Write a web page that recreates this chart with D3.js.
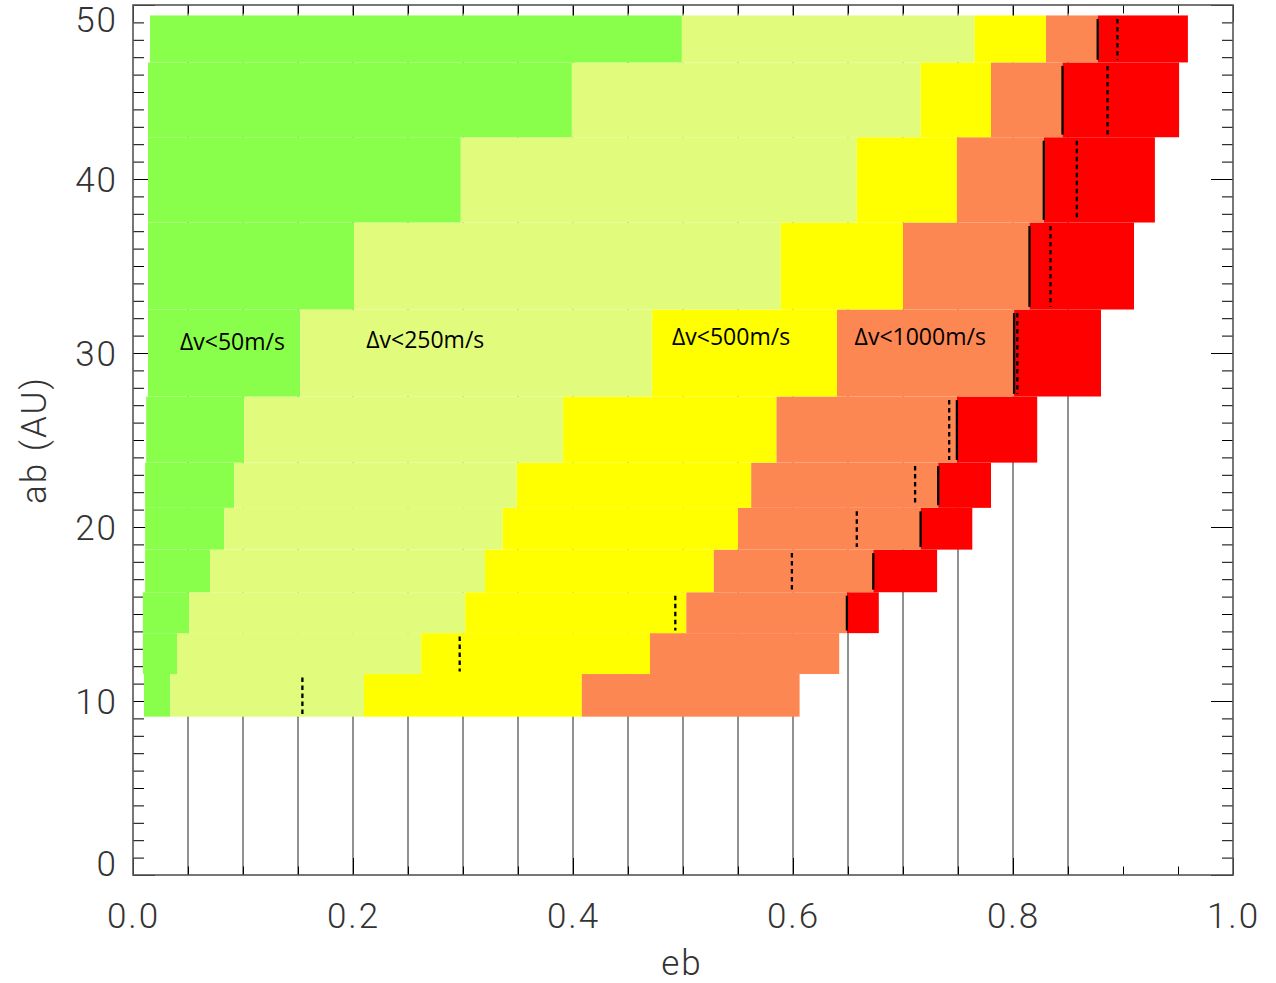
<!DOCTYPE html>
<html>
<head>
<meta charset="utf-8">
<script src="https://cdn.jsdelivr.net/npm/d3@7"></script>
<style>
body { margin: 0; background: #fff; }
.axis text, .title { font-family: Roboto, "DejaVu Sans"; font-weight: 300; font-size: 35px; fill: #333; letter-spacing: 2px; }
.note { font-family: "Open Sans", "Noto Sans"; font-size: 23px; fill: #000; }
</style>
</head>
<body>
<svg width="1276" height="983"></svg>
<script>
// ab of each simulated row and the ab edges of the rows (bottom to top)
var abRows = [10, 12.5, 15, 17.5, 20, 22.5, 25, 30, 35, 40, 45, 50];
var rowEdges = [9.1, 11.55, 13.9, 16.25, 18.7, 21.1, 23.7, 27.5, 32.5, 37.5, 42.4, 46.7, 49.4];

// eb where each colour band starts / ends, one value per row
var ebStart  = [0.010, 0.009, 0.009, 0.011, 0.011, 0.011, 0.012, 0.0136, 0.0136, 0.0136, 0.0136, 0.0155];
var ebDv50   = [0.034, 0.040, 0.051, 0.070, 0.083, 0.092, 0.101, 0.152, 0.201, 0.298, 0.399, 0.499];
var ebDv250  = [0.210, 0.262, 0.302, 0.320, 0.336, 0.349, 0.391, 0.472, 0.589, 0.658, 0.716, 0.765];
var ebDv500  = [0.408, 0.470, 0.503, 0.528, 0.550, 0.562, 0.585, 0.640, 0.700, 0.749, 0.780, 0.830];
var ebDv1000 = [0.606, 0.642, 0.649, 0.673, 0.716, 0.732, 0.749, 0.801, 0.815, 0.828, 0.845, 0.877];
var ebEnd    = [null, null, 0.678, 0.731, 0.763, 0.780, 0.822, 0.880, 0.910, 0.929, 0.951, 0.959];

// dashed markers, one per row
var ebDashed = [0.154, 0.297, 0.493, 0.599, 0.658, 0.711, 0.742, 0.804, 0.834, 0.858, 0.886, 0.895];

var bandColors = ["#8aff4b", "#e1fc7d", "#ffff00", "#fd8753", "#ff0000"];

var noteText = ["\u0394v<50m/s", "\u0394v<250m/s", "\u0394v<500m/s", "\u0394v<1000m/s"];
var noteEb = [0.0427, 0.212, 0.490, 0.656];
var noteAb = [30.15, 30.3, 30.45, 30.45];

var xTicks = [0, 0.2, 0.4, 0.6, 0.8, 1.0];
var yTicks = [0, 10, 20, 30, 40, 50];

var svg = d3.select("svg");

var x = d3.scaleLinear().domain([0, 1]).range([133, 1233]);
var y = d3.scaleLinear().domain([0, 50]).range([875, 5]);

// thin vertical lines every 0.05 behind the bars
var gridVals = d3.range(1, 18).map(function (k) { return k * 0.05; });
svg.append("g")
    .selectAll("line")
    .data(gridVals)
    .enter().append("line")
    .attr("x1", function (d) { return x(d); })
    .attr("x2", function (d) { return x(d); })
    .attr("y1", y(0))
    .attr("y2", y(50))
    .attr("stroke", "#222")
    .attr("stroke-width", 1);

// ticks on all four sides (drawn under the bars, like the original)
var minorX = d3.range(0, 21).map(function (k) { return k * 0.05; });
var minorY = d3.range(0, 51);

function tickGroup(axis, tx, ty) {
    var g = svg.append("g")
        .attr("transform", "translate(" + tx + "," + ty + ")")
        .call(axis);
    g.select(".domain").remove();
    g.selectAll(".tick line").attr("stroke", "#000");
    return g;
}

tickGroup(d3.axisBottom(x).tickValues(minorX).tickSize(-8.5).tickFormat(""), 0, 875);
tickGroup(d3.axisTop(x).tickValues(minorX).tickSize(-8.5).tickFormat(""), 0, 5);
tickGroup(d3.axisBottom(x).tickValues(xTicks).tickSize(-17).tickFormat(""), 0, 875);
tickGroup(d3.axisTop(x).tickValues(xTicks).tickSize(-17).tickFormat(""), 0, 5);
tickGroup(d3.axisLeft(y).tickValues(minorY).tickSize(-11).tickFormat(""), 133, 0);
tickGroup(d3.axisRight(y).tickValues(minorY).tickSize(-11).tickFormat(""), 1233, 0);
tickGroup(d3.axisLeft(y).tickValues(yTicks).tickSize(-22).tickFormat(""), 133, 0);
tickGroup(d3.axisRight(y).tickValues(yTicks).tickSize(-22).tickFormat(""), 1233, 0);

// coloured bands
var cells = [];
abRows.forEach(function (ab, i) {
    var edges = [ebStart[i], ebDv50[i], ebDv250[i], ebDv500[i], ebDv1000[i]];
    if (ebEnd[i] !== null) edges.push(ebEnd[i]);
    for (var k = 0; k < edges.length - 1; k++) {
        cells.push({x0: edges[k], x1: edges[k + 1], y0: rowEdges[i], y1: rowEdges[i + 1], c: bandColors[k]});
    }
});

svg.append("g")
    .selectAll("rect")
    .data(cells)
    .enter().append("rect")
    .attr("x", function (d) { return x(d.x0); })
    .attr("width", function (d) { return x(d.x1) - x(d.x0); })
    .attr("y", function (d) { return y(d.y1); })
    .attr("height", function (d) { return y(d.y0) - y(d.y1); })
    .attr("fill", function (d) { return d.c; });

// solid markers where the red band begins
var solid = abRows.map(function (ab, i) { return i; })
    .filter(function (i) { return ebEnd[i] !== null; });

svg.append("g")
    .selectAll("line")
    .data(solid)
    .enter().append("line")
    .attr("x1", function (i) { return x(ebDv1000[i]); })
    .attr("x2", function (i) { return x(ebDv1000[i]); })
    .attr("y1", function (i) { return y(rowEdges[i] + 0.15); })
    .attr("y2", function (i) { return y(rowEdges[i + 1] - 0.2); })
    .attr("stroke", "#000")
    .attr("stroke-width", 2.3);

svg.append("g")
    .selectAll("line")
    .data(ebDashed)
    .enter().append("line")
    .attr("x1", function (d) { return x(d); })
    .attr("x2", function (d) { return x(d); })
    .attr("y1", function (d, i) { return y(rowEdges[i + 1] - 0.2); })
    .attr("y2", function (d, i) { return y(rowEdges[i] + 0.15); })
    .attr("stroke", "#000")
    .attr("stroke-width", 2.3)
    .attr("stroke-dasharray", "4.5,3.5");

// band labels
svg.append("g")
    .selectAll("text")
    .data(noteText)
    .enter().append("text")
    .attr("class", "note")
    .attr("x", function (d, i) { return x(noteEb[i]); })
    .attr("y", function (d, i) { return y(noteAb[i]); })
    .text(function (d) { return d; });

// frame
svg.append("rect")
    .attr("x", 133)
    .attr("y", 5)
    .attr("width", 1100)
    .attr("height", 870)
    .attr("fill", "none")
    .attr("stroke", "#555")
    .attr("stroke-width", 1.6);

// tick labels
var xl = svg.append("g")
    .attr("class", "axis")
    .attr("transform", "translate(0,875)")
    .call(d3.axisBottom(x).tickValues(xTicks).tickSize(0).tickPadding(28).tickFormat(d3.format(".1f")));
xl.select(".domain").remove();
xl.selectAll(".tick text").attr("font-family", null).attr("font-size", null);

var yl = svg.append("g")
    .attr("class", "axis")
    .attr("transform", "translate(133,0)")
    .call(d3.axisLeft(y).tickValues(yTicks).tickSize(0).tickPadding(15).tickFormat(d3.format("d")));
yl.select(".domain").remove();
yl.attr("font-family", null).attr("font-size", null);
xl.attr("font-family", null).attr("font-size", null);
yl.selectAll(".tick text")
    .attr("dy", function (d) { return d === 0 ? "0em" : (d === 50 ? "0.75em" : "0.36em"); });

svg.append("text")
    .attr("class", "title")
    .attr("x", 682)
    .attr("y", 975)
    .attr("text-anchor", "middle")
    .text("eb");

svg.append("text")
    .attr("class", "title")
    .attr("transform", "translate(46,440) rotate(-90)")
    .attr("text-anchor", "middle")
    .text("ab (AU)");
</script>
</body>
</html>
